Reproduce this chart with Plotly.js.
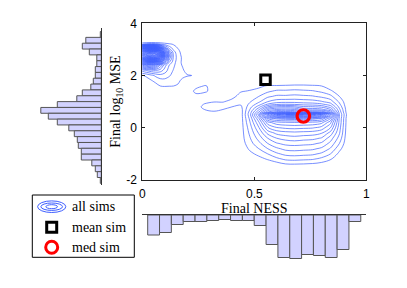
<!DOCTYPE html>
<html><head><meta charset="utf-8">
<script src="https://cdn.plot.ly/plotly-3.0.1.min.js"></script>
<style>html,body{margin:0;padding:0;background:#fff;}#chart{width:407px;height:288px;}</style>
</head><body><div id="chart"></div>
<script>
// ---- density grid around the left cluster (Final NESS ~0.05, log10 MSE ~2.8)
const leftGridNess = [-0.06,-0.04,-0.02,0,0.02,0.04,0.06,0.08,0.10,0.12,0.14,0.16,0.18,0.20,0.22,0.24];
const leftGridLogMse = [1.4,1.6,1.8,2.0,2.2,2.4,2.5,2.6,2.7,2.8,2.9,3.0,3.1,3.2,3.3];
const leftGridDensity = [
  [0,0,0,0,0,0,0,0,0,0,0,0,0,0,0,0],
  [0,0,0,0,0,0.2,0.6,1.0,1.1,1.05,1.0,0.9,0.4,0,0,0],
  [0,0,0.1,0.3,0.6,0.9,1.3,1.6,1.7,1.6,1.4,1.15,0.8,0.4,0.3,0],
  [0.3,0.5,0.7,0.9,1.2,1.7,2.2,2.6,2.5,2.1,1.7,1.3,1.2,1.1,1.05,0.2],
  [1.5,2,2.8,3.5,4.2,4.8,5,4.6,3.6,2.6,1.9,1.4,1.15,0.6,0.2,0],
  [3,5,7,9,10.5,11,10,7,4.5,3,2.2,1.4,0.9,0.4,0,0],
  [4,7,10,14,16,17,15.5,12,7,4,2.4,1.4,0.8,0.3,0,0],
  [5,9,14,19,24,26,24,18,10,5,2.6,1.5,0.8,0.3,0,0],
  [6,11,18,25,31,35,33,24,13,6,2.7,1.5,0.8,0.3,0,0],
  [6.5,12,20,28,36,41,38,27,14,6.2,2.7,1.4,0.7,0.2,0,0],
  [6,11,18,25,31,35,33,24,12,5.5,2.4,1.3,0.6,0.2,0,0],
  [5,9,14,19,23,25,23,16,8,3.5,1.8,1.05,0.6,0.2,0,0],
  [3,5,8,11,13,14,12.5,8,4,2.2,1.3,0.8,0.3,0.1,0,0],
  [0.5,1,1.5,2,2.5,2.8,2.6,2.2,1.6,1.2,0.9,0.5,0.2,0,0,0],
  [0,0,0,0,0,0,0,0,0,0,0,0,0,0,0,0]
];
// ---- density grid around the right cluster (Final NESS 0.45-0.9)
const rightGridNess = [0.20,0.24,0.28,0.32,0.36,0.40,0.44,0.48,0.52,0.56,0.60,0.64,0.68,0.72,0.76,0.80,0.84,0.88,0.92,0.96];
const rightGridLogMse = [-1.6,-1.4,-1.2,-1.0,-0.8,-0.6,-0.4,-0.2,0,0.2,0.35,0.5,0.6,0.7,0.8,0.9,1.0,1.2,1.4,1.6,1.8];
const rightGridDensity = [
  [0,0,0,0,0,0,0,0,0,0,0,0,0,0,0,0,0,0,0,0],
  [0,0,0,0,0,0,0,0,0,0.2,0.5,0.9,0.95,0.9,0.8,0.6,0.3,0,0,0],
  [0,0,0,0,0,0,0,0.2,0.6,1.1,1.7,2.2,2.3,2.2,2.1,1.7,1.1,0.2,0,0],
  [0,0,0,0,0,0,0,0.7,1.3,2.0,2.8,3.3,3.4,3.3,3.2,2.8,2.0,0.7,0,0],
  [0,0,0,0,0,0,0.2,1.2,2.0,3.0,3.8,4.3,4.4,4.3,4.2,3.8,2.9,1.3,0,0],
  [0,0,0,0,0,0,0.4,1.6,2.7,4.0,4.9,5.3,5.4,5.3,5.2,4.8,3.7,2.0,0,0],
  [0,0,0,0,0,0,0.5,1.9,3.4,5.0,6.0,6.4,6.6,6.4,6.3,5.9,4.5,2.6,0,0],
  [0,0,0,0,0,0,0.5,2.2,4.1,6.3,7.3,7.6,7.7,7.6,7.5,7.1,5.6,3.1,0,0],
  [0,0,0,0,0,0,0.5,2.5,4.9,7.9,8.9,9.2,9.3,9.2,9.1,8.6,7.0,3.4,0,0],
  [0,0,0,0,0,0,0.5,2.9,5.8,9.6,10.6,10.8,10.9,10.8,10.7,10.3,8.3,3.7,0,0],
  [0,0,0,0,0,0,0.5,3.2,6.8,12,13.2,13.5,13.6,13.5,13.4,12.8,10,3.8,0,0],
  [0,0,0,0.3,0,0.1,0.5,3.6,8.5,16,19,20,20.5,20,19.5,18,13,4.0,0.2,0],
  [0,0,0.5,0.8,0.5,0.3,0.5,3.4,7.0,11,12.5,12.5,12.3,11.5,11.3,11,9,3.6,0,0],
  [0,0.4,1.05,1.4,1.0,0.7,0.6,3.0,5.8,9,10,10.2,10,8.7,8.6,8.3,7,3.2,0,0],
  [0,0.6,1.3,1.5,1.5,1.0,0.8,2.6,4.6,7,8,8.2,8,7.2,7.1,6.8,5.6,2.7,0,0],
  [0,0.5,1.1,1.3,1.4,1.5,1.1,2.2,3.5,5.1,5.8,6,5.9,5.6,5.5,5.2,4.4,2.2,0,0],
  [0,0,0.7,0.95,0.9,1.4,1.5,1.9,2.8,4.0,4.5,4.6,4.6,4.5,4.4,4.1,3.5,1.8,0,0],
  [0,0.5,0.3,0.2,0.2,0.6,1.5,1.4,2.0,2.8,3.2,3.2,3.3,3.2,3.1,2.8,2.3,1.0,0,0],
  [0,1.4,1.2,0.5,0,0,0.9,1.1,1.3,1.8,2.2,2.2,2.3,2.2,2.1,1.8,1.2,0.4,0,0],
  [0,0.6,1.1,0.6,0,0,0.2,0.5,0.8,1.1,1.1,1.15,1.2,1.2,1.15,1.0,0.4,0,0,0],
  [0,0,0,0,0,0,0,0,0,0,0,0,0.1,0.1,0,0,0,0,0,0]
];
// ---- summary sims
const meanSimNess = [0.55];
const meanSimLogMse = [1.84];
const medSimNess = [0.719];
const medSimLogMse = [0.45];
// ---- marginal histogram of Final NESS (bottom)
const nessBinCenters = [0.0505,0.1033,0.1562,0.2090,0.2619,0.3147,0.3676,0.4204,0.4733,0.5261,0.5790,0.6318,0.6847,0.7375,0.7904,0.8432,0.8961,0.9489];
const nessCounts = [40,35,19,13,13,11,9,11,11,21,59,85,87,79,81,85,69,13];
const nessBinWidth = 0.0528;
// ---- marginal histogram of Final log10 MSE (left)
const mseBinCenters = [3.574,3.351,3.127,2.904,2.680,2.456,2.233,2.009,1.786,1.562,1.339,1.115,0.891,0.668,0.444,0.221,-0.003,-0.226,-0.450,-0.674,-0.897,-1.121,-1.344,-1.568,-1.791,-2.015];
const mseCounts = [2,31,38,24,9,9,12,12,16,21,38,49,88,121,106,88,65,54,48,46,40,40,19,12,8,2];
const mseBinWidth = 0.2236;
// ---- ticks & labels
const xTickVals = [0,0.5,1];
const xTickText = ['0','0.5','1'];
const yTickVals = [-2,0,2,4];
const yTickText = ['-2','0','2','4'];
const legendLabels = ['all sims','mean sim','med sim'];

const W = 407, H = 288;
const px = v => v / W;
const py = v => 1 - v / H;
const contourBlue = 'rgb(62,94,255)';

const contourStyle = {
  type: 'contour', xaxis: 'x', yaxis: 'y',
  autocontour: false,
  contours: {coloring: 'none', start: 1, end: 40, size: 1},
  line: {color: contourBlue, width: 0.7, smoothing: 1},
  showscale: false, showlegend: false, hoverinfo: 'skip'
};
const barStyle = {marker: {color: 'rgb(210,210,255)', line: {color: 'rgb(85,85,85)', width: 1}}};

const traces = [
  Object.assign({}, contourStyle, {x: leftGridNess, y: leftGridLogMse, z: leftGridDensity}),
  Object.assign({}, contourStyle, {x: rightGridNess, y: rightGridLogMse, z: rightGridDensity}),
  {type: 'scatter', mode: 'markers', x: meanSimNess, y: meanSimLogMse, xaxis: 'x', yaxis: 'y',
   marker: {symbol: 'square-open', size: 9.5, color: '#000', line: {width: 3, color: '#000'}}, showlegend: false, hoverinfo: 'skip'},
  {type: 'scatter', mode: 'markers', x: medSimNess, y: medSimLogMse, xaxis: 'x', yaxis: 'y',
   marker: {symbol: 'circle-open', size: 12.5, color: '#ff0000', line: {width: 3.2, color: '#ff0000'}}, showlegend: false, hoverinfo: 'skip'},
  Object.assign({type: 'bar', orientation: 'h', x: mseCounts, y: mseBinCenters, width: mseBinWidth,
   xaxis: 'x3', yaxis: 'y3', showlegend: false, hoverinfo: 'skip'}, barStyle),
  Object.assign({type: 'bar', x: nessBinCenters, y: nessCounts, width: nessBinWidth,
   xaxis: 'x4', yaxis: 'y4', showlegend: false, hoverinfo: 'skip'}, barStyle)
];

const tickFont = {family: 'Liberation Sans, Arial, sans-serif', size: 12, color: '#000'};
const serif = {family: 'Liberation Serif, Times New Roman, serif', size: 14, color: '#000'};
const hidden = {showline: false, showgrid: false, zeroline: false, ticks: '', showticklabels: false};

const shapes = [
  {type: 'rect', xref: 'paper', yref: 'paper', x0: px(32.3), x1: px(134.3), y0: py(257.3), y1: py(195),
   line: {color: '#000', width: 1}, fillcolor: '#fff', layer: 'above'},
  {type: 'circle', xref: 'paper', yref: 'paper', x0: px(51.7-14.1), x1: px(51.7+14.1), y0: py(206.7+5.8), y1: py(206.7-5.8),
   line: {color: contourBlue, width: 1}},
  {type: 'circle', xref: 'paper', yref: 'paper', x0: px(51.7-10.8), x1: px(51.7+10.8), y0: py(206.7+3.7), y1: py(206.7-3.7),
   line: {color: contourBlue, width: 1}},
  {type: 'circle', xref: 'paper', yref: 'paper', x0: px(51.7-5.8), x1: px(51.7+5.8), y0: py(206.7+2), y1: py(206.7-2),
   line: {color: contourBlue, width: 1}},
  {type: 'rect', xref: 'paper', yref: 'paper', x0: px(46.7), x1: px(56.7), y0: py(232.3), y1: py(222.3),
   line: {color: '#000', width: 3}},
  {type: 'circle', xref: 'paper', yref: 'paper', x0: px(45.7), x1: px(57.7), y0: py(253.3), y1: py(241.3),
   line: {color: '#ff0000', width: 3}}
];
const legendY = [206.7, 227.3, 247.3];
const annotations = legendLabels.map((t, i) => ({
  text: t, xref: 'paper', yref: 'paper', x: px(70), y: py(legendY[i]),
  xanchor: 'left', yanchor: 'middle', showarrow: false, font: serif
}));

const layout = {
  width: W, height: H, margin: {l: 0, r: 0, t: 0, b: 0},
  paper_bgcolor: '#fff', plot_bgcolor: 'rgba(0,0,0,0)', showlegend: false, bargap: 0,
  xaxis: {domain: [px(142.3), px(366.3)], range: [0, 1], anchor: 'y',
    tickvals: xTickVals, ticktext: xTickText, ticks: 'inside', ticklen: 3, tickcolor: '#222',
    showline: true, mirror: 'ticks', linecolor: '#222', linewidth: 1, showgrid: false, zeroline: false,
    tickfont: tickFont, ticklabelstandoff: 3,
    title: {text: 'Final NESS', font: serif, standoff: 2}},
  yaxis: {domain: [py(180), py(23.3)], range: [-2, 4], anchor: 'x',
    tickvals: yTickVals, ticktext: yTickText, ticks: 'inside', ticklen: 3, tickcolor: '#222',
    showline: true, mirror: 'ticks', linecolor: '#222', linewidth: 1, showgrid: false, zeroline: false,
    tickfont: tickFont, ticklabelstandoff: 2,
    title: {text: 'Final log<sub>10</sub> MSE', font: serif, standoff: 2}},
  xaxis3: Object.assign({domain: [px(30), px(101.3)], range: [142.6, 0], anchor: 'y3'}, hidden),
  yaxis3: Object.assign({}, hidden, {domain: [py(185), py(28.3)], range: [-2.19, 3.81], anchor: 'x3', side: 'right',
    showline: true, linecolor: '#333', linewidth: 1}),
  xaxis4: Object.assign({}, hidden, {domain: [px(142.3), px(366.3)], range: [0, 1], anchor: 'y4', side: 'top',
    showline: true, linecolor: '#333', linewidth: 1}),
  yaxis4: Object.assign({domain: [py(262), py(215)], range: [94, 0], anchor: 'x4'}, hidden),
  shapes: shapes, annotations: annotations
};

Plotly.newPlot('chart', traces, layout, {staticPlot: true, displayModeBar: false});
</script></body></html>
